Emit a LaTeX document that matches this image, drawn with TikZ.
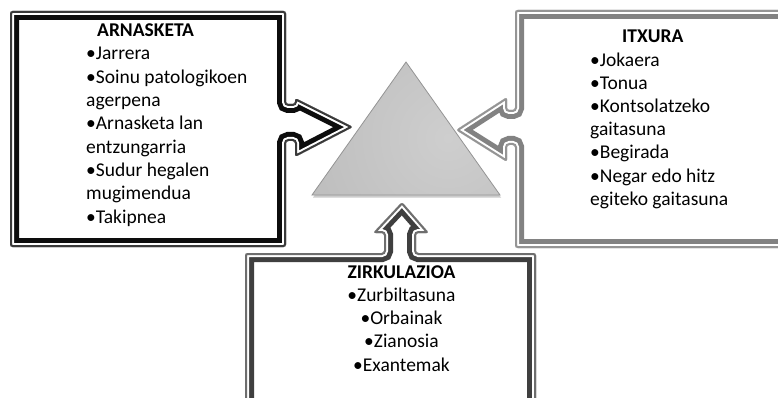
\documentclass[tikz,border=0pt]{standalone}
\usepackage{fontspec}
\setmainfont{Carlito}

% Frame of a callout: thin outer line, white gap, thick inner band,
% all kept inside the outline by clipping to it.
\newcommand\calloutframe[3]{%
  \begin{scope}
    \clip[rounded corners=2.5pt] #1;
    \fill[white] #1;
    \draw[rounded corners=2.5pt, line join=miter, line width=18pt, #2] #1;
    \draw[rounded corners=2.5pt, line join=miter, line width=8pt, white] #1;
    \draw[rounded corners=2.5pt, line join=miter, line width=4pt, #3] #1;
  \end{scope}}

\definecolor{leftband}{HTML}{0D0D0D}
\definecolor{leftline}{HTML}{3A3A3A}
\definecolor{rightband}{HTML}{828282}
\definecolor{rightline}{HTML}{959595}
\definecolor{lowband}{HTML}{3F3F3F}
\definecolor{lowline}{HTML}{6E6E6E}
\definecolor{pyrA}{HTML}{CECECE}
\definecolor{pyrB}{HTML}{BEBEBE}
\definecolor{pyrC}{HTML}{737373}
\pgfdeclareradialshading{pyramidshade}{\pgfpoint{0bp}{0bp}}{%
  color(0bp)=(pyrA); color(24bp)=(pyrB); color(50bp)=(pyrC)}

\begin{document}
\begin{tikzpicture}[x=1pt,y=-1pt,
  txt/.style={font=\fontsize{19.5}{23.3}\selectfont, inner sep=0pt, text=black},
  ttl/.style={font=\fontsize{19.5}{23.3}\selectfont\bfseries, inner sep=0pt, text=black}]
\useasboundingbox (0,0) rectangle (778,398);
\clip (0,0) rectangle (778,398);
\fill[white] (0,0) rectangle (778,398);

% right callout, arrow pointing left
\calloutframe{(515,10) -- (800,10) -- (800,248) -- (515,248) -- (515,145)
  -- (507,145) -- (507,162) -- (456,130) -- (507,97) -- (507,110)
  -- (515,110) -- cycle}{rightband}{rightline}

% lower callout, arrow pointing up
\calloutframe{(245,253) -- (384,253) -- (384,233) -- (373,233) -- (402,202)
  -- (429,233) -- (416,233) -- (416,253) -- (536,253) -- (536,420)
  -- (245,420) -- cycle}{lowband}{lowline}

% left callout, arrow pointing right
\calloutframe{(10,11) -- (286,11) -- (286,104) -- (295,104) -- (295,98)
  -- (353,127) -- (295,157) -- (295,141) -- (286,141) -- (286,247)
  -- (10,247) -- cycle}{leftband}{leftline}

% central pyramid
\coordinate (apex) at (406,62);
\coordinate (bl) at (312,195);
\coordinate (br) at (500,195);
\fill[black!20] ([shift={(1,2.5)}]bl) -- ([shift={(1,2.5)}]br) -- ([shift={(0,2)}]apex) -- cycle;
\begin{scope}
  \clip (apex) -- (br) -- (bl) -- cycle;
  \shade[shading=pyramidshade] (448,138) circle (150pt);
\end{scope}
\draw[black!42, line width=0.8pt, line join=miter] (apex) -- (br) -- (bl) -- cycle;

% texts
\node[ttl, anchor=base west] (arnT) at (97,37) {ARNASKETA};
\foreach \t [count=\i] in {•Jarrera, •Soinu patologikoen, agerpena,
    •Arnasketa lan, entzungarria, •Sudur hegalen, mugimendua, •Takipnea}
  \node[txt, anchor=base west] (arn\i) at (86,36.7+23.3*\i) {\t};

\node[ttl, anchor=base west] (itxT) at (622,43) {ITXURA};
\foreach \t [count=\i] in {•Jokaera, •Tonua, •Kontsolatzeko, gaitasuna,
    •Begirada, •Negar edo hitz, egiteko gaitasuna}
  \node[txt, anchor=base west] (itx\i) at (590,43+23.2*\i) {\t};

\node[ttl, anchor=base] (zirT) at (401.5,278) {ZIRKULAZIOA};
\foreach \t [count=\i] in {•Zurbiltasuna, •Orbainak, •Zianosia, •Exantemak}
  \node[txt, anchor=base] (zir\i) at (401.5,278+23.3*\i) {\t};
\end{tikzpicture}
\end{document}
